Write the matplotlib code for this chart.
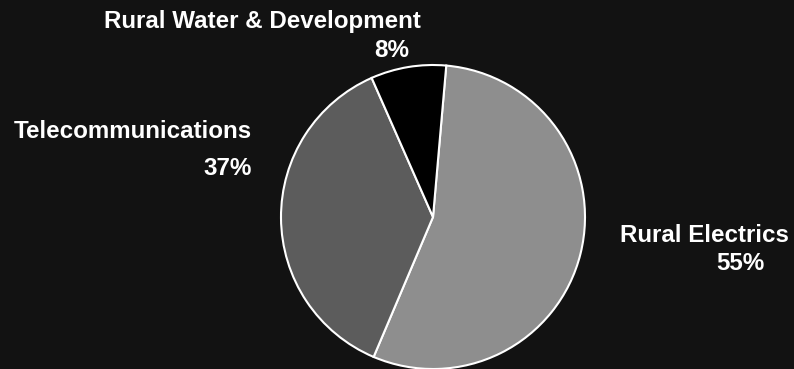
import matplotlib.pyplot as plt

labels = ["Rural Electrics", "Telecommunications", "Rural Water & Development"]
shares = [55, 37, 8]
colors = ["#8e8e8e", "#5c5c5c", "#000000"]

W, H = 794, 369
fig = plt.figure(figsize=(W / 100, H / 100), dpi=100)
fig.patch.set_facecolor("#121212")
ax = fig.add_axes([0, 0, 1, 1])
ax.set_facecolor("#121212")

ax.pie(shares, colors=colors, startangle=85, counterclock=False,
       center=(433, H - 217), radius=152,
       wedgeprops=dict(edgecolor="white", linewidth=1.5))
ax.set_xlim(0, W)
ax.set_ylim(0, H)
ax.set_aspect("equal")
ax.axis("off")

# label text positions (left/right x, baseline y in pixels from top)
font = dict(color="white", fontweight="bold", family="Liberation Sans", fontsize=17.4)
ax.text(104, H - 28, labels[2], ha="left", va="baseline", **font)
ax.text(409, H - 57, f"{shares[2]}%", ha="right", va="baseline", **font)
ax.text(14, H - 138, labels[1], ha="left", va="baseline", **font)
ax.text(252, H - 175, f"{shares[1]}%", ha="right", va="baseline", **font)
ax.text(620, H - 242, labels[0], ha="left", va="baseline", **font)
ax.text(765, H - 270, f"{shares[0]}%", ha="right", va="baseline", **font)

fig.savefig("out.png", dpi=100, facecolor=fig.get_facecolor())
